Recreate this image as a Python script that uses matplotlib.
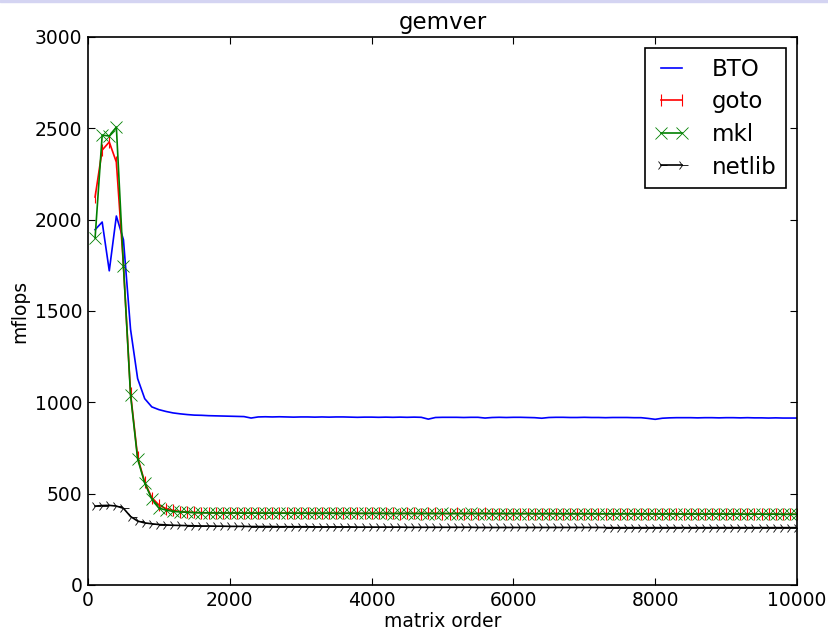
import matplotlib
matplotlib.use('Agg')
import matplotlib.pyplot as plt
from matplotlib.patches import Rectangle

# matrix orders (x axis)
sizes = list(range(100, 10001, 100))

bto = [1945, 1987, 1720, 2020, 1890, 1400, 1130, 1020, 975, 960,
       950, 942, 937, 933, 930, 929, 927, 926, 925, 924,
       923, 922, 914, 920, 921, 920, 921, 920, 919, 920,
       920, 919, 920, 919, 920, 920, 919, 918, 919, 919,
       918, 919, 918, 919, 918, 919, 918, 908, 917, 918,
       918, 918, 917, 918, 918, 914, 917, 918, 917, 918,
       918, 917, 916, 913, 917, 918, 918, 917, 917, 918,
       917, 917, 916, 917, 917, 917, 916, 916, 912, 907,
       913, 915, 916, 916, 916, 915, 916, 916, 915, 916,
       916, 915, 916, 915, 915, 914, 915, 914, 914, 914]

goto = [2124, 2381, 2425, 2315, 1750, 1050, 700, 562, 478, 438,
        418, 408, 402, 399, 397, 396, 395, 395, 394, 394,
        394, 394, 393, 394, 393, 393, 393, 394, 393, 393,
        393, 393, 392, 393, 393, 392, 393, 392, 392, 393,
        392, 392, 392, 391, 392, 392, 391, 392, 392, 391,
        391, 392, 391, 391, 391, 392, 391, 391, 390, 391,
        391, 391, 390, 391, 390, 391, 390, 390, 391, 390,
        390, 390, 390, 389, 390, 390, 389, 390, 389, 389,
        389, 390, 389, 389, 389, 389, 388, 389, 389, 388,
        389, 388, 388, 389, 388, 388, 388, 387, 388, 387]

mkl = [1900, 2463, 2458, 2507, 1746, 1040, 690, 558, 471, 421,
       410, 403, 400, 398, 396, 395, 395, 394, 394, 394,
       394, 393, 394, 393, 393, 394, 393, 393, 393, 393,
       393, 392, 393, 393, 392, 392, 393, 392, 392, 392,
       392, 392, 391, 392, 392, 391, 392, 391, 391, 392,
       391, 391, 391, 392, 391, 391, 390, 391, 391, 391,
       390, 391, 390, 390, 391, 390, 390, 390, 389, 390,
       390, 389, 390, 389, 389, 390, 389, 389, 389, 389,
       388, 389, 389, 388, 389, 388, 388, 389, 388, 388,
       388, 388, 387, 388, 388, 387, 388, 387, 387, 387]

netlib = [432, 435, 436, 432, 420, 375, 350, 340, 335, 331,
          329, 327, 326, 325, 324, 323, 323, 322, 322, 321,
          321, 321, 320, 320, 320, 320, 319, 319, 319, 319,
          319, 318, 318, 318, 318, 318, 318, 317, 317, 317,
          317, 317, 317, 317, 316, 316, 316, 316, 316, 316,
          316, 316, 316, 316, 315, 315, 315, 315, 315, 315,
          315, 315, 315, 315, 315, 315, 315, 315, 315, 315,
          315, 315, 314, 314, 314, 314, 314, 314, 314, 314,
          314, 314, 314, 314, 314, 314, 314, 314, 314, 314,
          314, 314, 314, 314, 314, 314, 314, 314, 314, 314]

plt.rcParams['font.family'] = 'DejaVu Sans'
plt.rcParams['font.size'] = 13.5
plt.rcParams['xtick.direction'] = 'in'
plt.rcParams['ytick.direction'] = 'in'
plt.rcParams['xtick.top'] = True
plt.rcParams['ytick.right'] = True

fig = plt.figure(figsize=(8.29, 6.3), dpi=100)
ax = fig.add_axes([88 / 829, 1 - 585 / 630, (797 - 88) / 829, (585 - 37) / 630])

ax.plot(sizes, bto, color='b', lw=1.2, label='BTO')
ax.plot(sizes, goto, color='r', lw=1.2, marker='|', ms=8, mew=0.8, label='goto')
ax.plot(sizes, mkl, color='g', lw=1.2, marker='x', ms=8, mew=0.6, label='mkl')
ax.plot(sizes, netlib, color='k', lw=1.2, marker='4', ms=8, mew=0.6, label='netlib')

ax.set_xlim(0, 10000)
ax.set_ylim(0, 3000)
ax.set_xticks([0, 2000, 4000, 6000, 8000, 10000])
ax.set_yticks([0, 500, 1000, 1500, 2000, 2500, 3000])
ax.tick_params(length=5, width=0.8, pad=4)
for s in ax.spines.values():
    s.set_linewidth(1.2)

ax.set_title('gemver', fontsize=16.5, pad=6)
ax.set_xlabel('matrix order', labelpad=2)
ax.set_ylabel('mflops', labelpad=4)

leg = ax.legend(loc='upper right', fontsize=16.5, numpoints=2, fancybox=False,
                framealpha=1, edgecolor='k', handlelength=1.5, handletextpad=1.0,
                labelspacing=0.42, borderpad=0.4, borderaxespad=0.5)
leg.get_frame().set_linewidth(1.2)

# thin lavender strip along the top edge of the screenshot
fig.patches.append(Rectangle((0, 1 - 2 / 630), 1, 2 / 630, transform=fig.transFigure,
                             color='#d4d4f2', zorder=0))

fig.savefig('out.png', dpi=100)
